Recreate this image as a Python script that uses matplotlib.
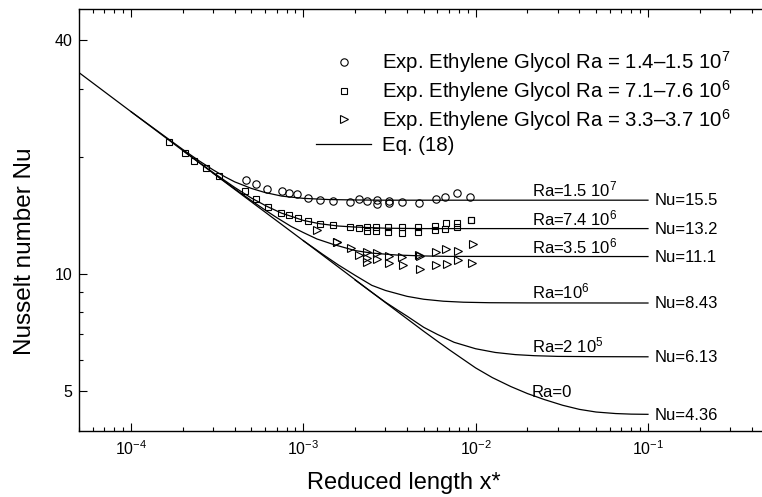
import matplotlib
matplotlib.use("Agg")
import matplotlib.pyplot as plt
from matplotlib.ticker import FixedLocator, FixedFormatter, NullFormatter, LogLocator

plt.rcParams['font.family'] = ['Liberation Sans', 'DejaVu Sans']
plt.rcParams['mathtext.fontset'] = 'custom'
plt.rcParams['mathtext.rm'] = 'Liberation Sans'
plt.rcParams['mathtext.it'] = 'Liberation Sans:italic'
plt.rcParams['mathtext.bf'] = 'Liberation Sans:bold'

# --- Eq. (18) curves (x*, Nu) ---
ra0_x = [5e-5, 1e-4, 2e-4, 5e-4, 1e-3, 2e-3, 3e-3, 5e-3, 7e-3, 1e-2, 1.25e-2, 1.6e-2,
         2e-2, 2.5e-2, 3.2e-2, 4e-2, 5e-2, 6.5e-2, 8e-2, 1e-1]
ra0_nu = [33.0, 26.2, 20.8, 15.35, 12.2, 9.68, 8.45, 7.13, 6.4, 5.74, 5.42, 5.14,
          4.93, 4.76, 4.6, 4.49, 4.42, 4.38, 4.365, 4.36]

ra2e5_x = [2e-3, 2.5e-3, 3e-3, 3.5e-3, 4e-3, 5e-3, 6e-3, 7.5e-3, 1e-2, 1.3e-2, 1.7e-2,
           2.2e-2, 3e-2, 5e-2, 1e-1]
ra2e5_nu = [9.66, 8.98, 8.47, 8.1, 7.8, 7.3, 7.0, 6.68, 6.43, 6.29, 6.21,
            6.17, 6.145, 6.135, 6.13]

ra1e6_x = [1e-3, 1.3e-3, 1.6e-3, 2e-3, 2.5e-3, 3e-3, 4e-3, 5e-3, 6.5e-3, 8.5e-3, 1.2e-2,
           2e-2, 1e-1]
ra1e6_nu = [12.2, 11.24, 10.56, 9.93, 9.36, 9.08, 8.77, 8.62, 8.52, 8.47, 8.445,
            8.435, 8.43]

ra35e6_x = [3e-4, 4e-4, 5e-4, 6e-4, 7e-4, 8.5e-4, 1e-3, 1.2e-3, 1.5e-3, 2e-3, 2.5e-3,
            3.5e-3, 5e-3, 7e-3, 1e-1]
ra35e6_nu = [18.2, 16.59, 15.46, 14.63, 13.99, 13.27, 12.8, 12.32, 11.92, 11.5, 11.33,
             11.2, 11.14, 11.11, 11.1]

ra74e6_x = [2e-4, 3e-4, 4e-4, 5e-4, 6.2e-4, 7.5e-4, 8.8e-4, 1e-3, 1.25e-3, 1.6e-3, 2e-3,
            3e-3, 5e-3, 1e-1]
ra74e6_nu = [20.8, 18.26, 16.72, 15.7, 14.92, 14.35, 14.02, 13.75, 13.48, 13.3, 13.22,
             13.13, 13.1, 13.1]

ra15e7_x = [1e-4, 2e-4, 2.5e-4, 3e-4, 3.5e-4, 4e-4, 5e-4, 6e-4, 7.5e-4, 1e-3, 1.4e-3,
            2e-3, 3e-3, 1e-1]
ra15e7_nu = [26.2, 20.93, 19.54, 18.55, 17.82, 17.28, 16.62, 16.22, 15.88, 15.67, 15.56,
             15.52, 15.5, 15.5]

# --- experimental points ---
circ_x = [4.64e-4, 5.31e-4, 6.14e-4, 7.52e-4, 8.22e-4, 9.23e-4, 1.062e-3, 1.255e-3,
          1.479e-3, 1.866e-3, 2.094e-3, 2.343e-3, 2.677e-3, 2.677e-3, 3.127e-3, 3.127e-3,
          3.74e-3, 4.67e-3, 5.91e-3, 6.67e-3, 7.8e-3, 9.23e-3]
circ_nu = [17.48, 17.04, 16.53, 16.38, 16.19, 16.04, 15.74, 15.53,
           15.44, 15.37, 15.6, 15.41, 15.53, 15.13, 15.28, 15.39,
           15.37, 15.28, 15.57, 15.76, 16.21, 15.78]

sq_x = [1.675e-4, 2.047e-4, 2.339e-4, 2.735e-4, 3.264e-4, 4.587e-4, 5.32e-4, 6.22e-4,
        7.38e-4, 8.24e-4, 9.32e-4, 1.069e-3, 1.255e-3, 1.487e-3, 1.874e-3, 2.094e-3,
        2.336e-3, 2.336e-3, 2.653e-3, 2.653e-3, 3.114e-3, 3.114e-3, 3.73e-3, 3.73e-3,
        4.65e-3, 4.65e-3, 5.84e-3, 5.84e-3, 6.63e-3, 6.76e-3, 7.8e-3, 7.8e-3, 9.44e-3, 9.4e-3]
sq_nu = [21.93, 20.48, 19.57, 18.74, 17.9, 16.38, 15.62, 14.85,
         14.4, 14.21, 13.92, 13.67, 13.45, 13.35, 13.26, 13.13,
         13.26, 12.95, 13.21, 12.9, 13.26, 12.87, 13.21, 12.75,
         13.19, 12.85, 13.33, 13.0, 13.1, 13.53, 13.57, 13.26, 13.8, 13.75]

tri_x = [1.2e-3, 1.575e-3, 1.57e-3, 1.887e-3, 2.094e-3, 2.352e-3, 2.352e-3, 2.352e-3,
         2.671e-3, 2.671e-3, 3.156e-3, 3.156e-3, 3.754e-3, 3.805e-3, 4.73e-3, 4.7e-3,
         4.775e-3, 5.91e-3, 5.91e-3, 6.76e-3, 6.81e-3, 7.94e-3, 7.94e-3, 9.69e-3, 9.51e-3]
tri_nu = [13.0, 12.08, 12.12, 11.68, 11.21, 11.39, 10.99, 10.75,
          11.31, 10.92, 11.11, 10.69, 11.09, 10.53, 11.15, 11.18,
          10.32, 11.38, 10.53, 11.58, 10.63, 11.48, 10.88, 11.97, 10.67]

plateaus = [15.5, 13.1, 11.1, 8.43, 6.13, 4.36]
ra_labels = ['Ra=1.5 $10^{7}$', 'Ra=7.4 $10^{6}$', 'Ra=3.5 $10^{6}$',
             'Ra=$10^{6}$', 'Ra=2 $10^{5}$', 'Ra=0']
nu_labels = ['Nu=15.5', 'Nu=13.2', 'Nu=11.1', 'Nu=8.43', 'Nu=6.13', 'Nu=4.36']
leg_labels = ['Exp. Ethylene Glycol Ra = 1.4\u20131.5 $10^{7}$',
              'Exp. Ethylene Glycol Ra = 7.1\u20137.6 $10^{6}$',
              'Exp. Ethylene Glycol Ra = 3.3\u20133.7 $10^{6}$',
              'Eq. (18)']

fig = plt.figure(figsize=(7.62, 4.97), dpi=100)
ax = fig.add_axes([79 / 762, 66 / 497, 683 / 762, 422 / 497])

curves = [(ra15e7_x, ra15e7_nu), (ra74e6_x, ra74e6_nu), (ra35e6_x, ra35e6_nu),
          (ra1e6_x, ra1e6_nu), (ra2e5_x, ra2e5_nu), (ra0_x, ra0_nu)]
eq_line = None
for cx, cy in curves:
    ln, = ax.plot(cx, cy, color='k', lw=0.9)
    eq_line = ln

h_circ, = ax.plot(circ_x, circ_nu, 'o', ls='none', mfc='none', mec='k', ms=5.3, mew=0.8)
h_sq, = ax.plot(sq_x, sq_nu, 's', ls='none', mfc='none', mec='k', ms=4.4, mew=0.8)
h_tri, = ax.plot(tri_x, tri_nu, '>', ls='none', mfc='none', mec='k', ms=5.6, mew=0.8)

ax.set_xscale('log')
ax.set_yscale('log')
ax.set_xlim(5e-5, 0.4587)
ax.set_ylim(3.95, 48.1)

ax.yaxis.set_major_locator(FixedLocator([5, 10, 40]))
ax.yaxis.set_major_formatter(FixedFormatter(['5', '10', '40']))
ax.yaxis.set_minor_locator(FixedLocator([6, 7, 8, 9, 20, 30]))
ax.yaxis.set_minor_formatter(NullFormatter())
ax.xaxis.set_major_locator(LogLocator(base=10, numticks=10))
ax.xaxis.set_minor_locator(LogLocator(base=10, subs=range(2, 10), numticks=20))
ax.xaxis.set_minor_formatter(NullFormatter())

ax.tick_params(which='both', direction='in', top=True, right=False, width=0.8)
ax.tick_params(which='major', length=6)
ax.tick_params(which='minor', length=3.2)
ax.tick_params(axis='x', which='major', labelsize=11.5, pad=6)
ax.tick_params(axis='y', which='major', labelsize=11.5, pad=5)
ax.spines['right'].set_visible(False)
for s in ['left', 'bottom', 'top']:
    ax.spines[s].set_linewidth(1.0)

# curve annotations
ra_offsets = [2.4, 2.2, 2.2, 3.0, 3.2, 12.5]
for lbl, nu, off in zip(ra_labels, plateaus, ra_offsets):
    ax.annotate(lbl, (0.0212, nu), xytext=(0, off), textcoords='offset points',
                ha='left', va='baseline', fontsize=12)
for lbl, nu in zip(nu_labels, plateaus):
    ax.annotate(lbl, (0.1, nu), xytext=(5, -0.5), textcoords='offset points',
                ha='left', va='center', fontsize=12)

ax.legend([h_circ, h_sq, h_tri, eq_line], leg_labels, loc='upper left',
          bbox_to_anchor=(316 / 762, 1 - 49 / 497), bbox_transform=fig.transFigure,
          frameon=False, fontsize=14.7, handlelength=2.7, handletextpad=0.55,
          labelspacing=0.15, borderpad=0, borderaxespad=0)

fig.text(25 / 762, 1 - 251.5 / 497, 'Nusselt number Nu', rotation=90,
         ha='center', va='center', fontsize=17.5)
fig.text(404 / 762, 1 - 489 / 497, 'Reduced length x*', ha='center', va='baseline',
         fontsize=17)

fig.savefig('out.png', dpi=100)
